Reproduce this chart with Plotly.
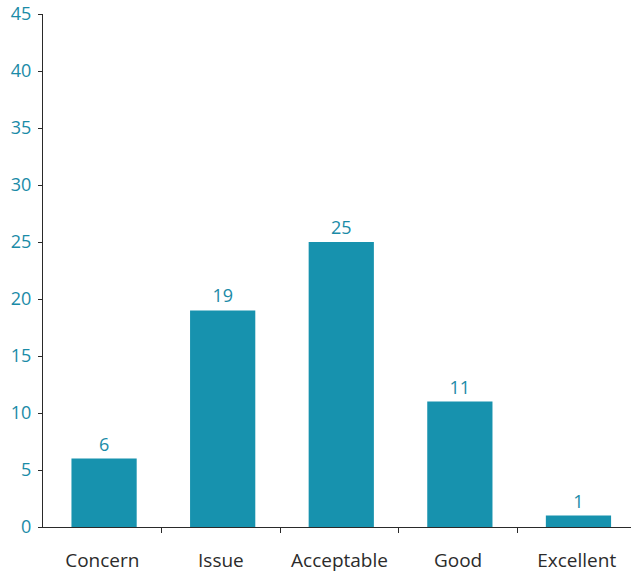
import plotly.graph_objects as go

categories = ["Concern", "Issue", "Acceptable", "Good", "Excellent"]
counts = [6, 19, 25, 11, 1]
y_ticks = [0, 5, 10, 15, 20, 25, 30, 35, 40, 45]

teal = "#1792ae"
label_teal = "#1a8ba7"
font_family = "Open Sans, Noto Sans, sans-serif"

fig = go.Figure(
    go.Bar(
        x=list(range(len(categories))),
        y=counts,
        width=0.55,
        offset=-0.26,
        marker=dict(color=teal, line=dict(width=0)),
        text=[str(v) for v in counts],
        textposition="outside",
        textfont=dict(color=label_teal, size=18, family=font_family),
        cliponaxis=False,
    )
)

fig.update_layout(
    width=631,
    height=573,
    margin=dict(l=43, r=0, t=14, b=46),
    plot_bgcolor="white",
    paper_bgcolor="white",
    showlegend=False,
    font=dict(family=font_family),
)

fig.update_xaxes(
    range=[-0.5, 4.458],
    tickmode="array",
    tickvals=list(range(len(categories))),
    ticktext=categories,
    ticks="",
    showgrid=False,
    zeroline=False,
    showline=True,
    linecolor="#2a2a2a",
    linewidth=1,
    tickfont=dict(size=19, color="#2b2b2b", family=font_family),
    ticklabelstandoff=16,
    automargin=False,
)

# Boundary tick marks between categories on the x axis
fig.update_layout(
    xaxis2=dict(
        overlaying="x",
        matches="x",
        range=[-0.5, 4.458],
        tickmode="array",
        tickvals=[0.5, 1.5, 2.5, 3.5],
        ticks="outside",
        ticklen=5,
        tickcolor="#2a2a2a",
        showticklabels=False,
        showgrid=False,
        zeroline=False,
        anchor="y",
        automargin=False,
    )
)
fig.add_trace(go.Scatter(x=[None], y=[None], xaxis="x2", showlegend=False))

fig.update_yaxes(
    range=[0, 45],
    tickmode="array",
    tickvals=y_ticks,
    ticks="outside",
    ticklen=4,
    tickcolor="#2a2a2a",
    showgrid=False,
    zeroline=False,
    showline=True,
    linecolor="#2a2a2a",
    linewidth=1,
    tickfont=dict(size=18, color=label_teal, family=font_family),
    ticklabelstandoff=3,
    automargin=False,
)

fig.write_html("out.html")
